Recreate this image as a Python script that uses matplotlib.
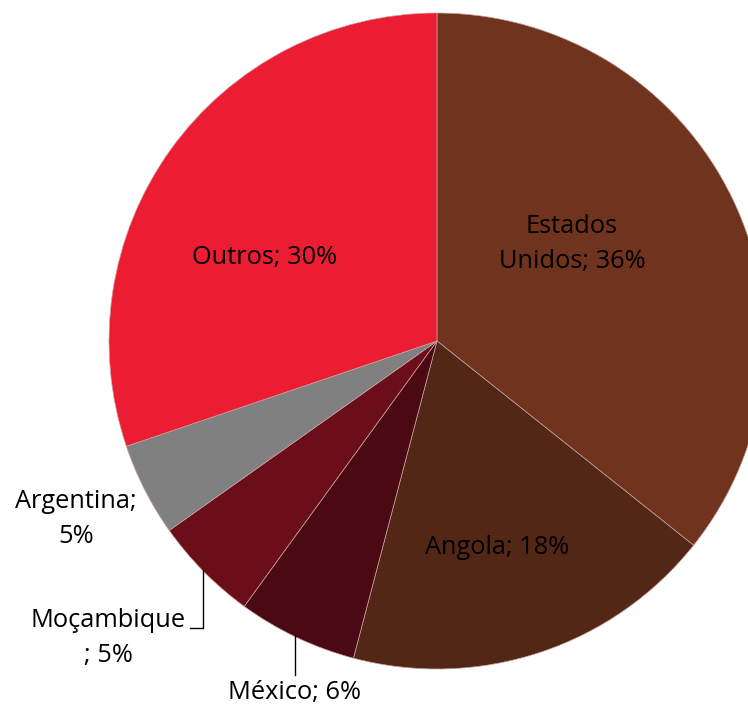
import matplotlib.pyplot as plt

# fatias (sentido horário a partir das 12h)
countries = ["Estados\nUnidos", "Angola", "México", "Moçambique\n", "Argentina;\n", "Outros"]
shares = [35.7, 18.4, 5.9, 5.2, 4.6, 30.2]
colors = ["#6F331E", "#532716", "#4B0A13", "#6C0E19", "#808080", "#EC1C33"]

# geometria da imagem em pixels
W, H = 748, 708
cx, cy, R = 437, 341, 328


def px(x, y):
    return (x - cx) / R, (cy - y) / R


fig = plt.figure(figsize=(W / 100, H / 100), dpi=100)
ax = fig.add_axes([0, 0, 1, 1])
ax.pie(shares, colors=colors, startangle=90, counterclock=False, radius=1,
       wedgeprops=dict(edgecolor="#C8A0A0", linewidth=0.5))
ax.set_xlim((0 - cx) / R, (W - cx) / R)
ax.set_ylim((cy - H) / R, cy / R)
ax.axis("off")

fs = 18.3

labels = []
for name, v in zip(countries, shares):
    if name.endswith(";\n"):
        labels.append(f"{name}{v:.0f}%")
    else:
        labels.append(f"{name}; {v:.0f}%")

# posições dos rótulos (pixels da referência)
label_pos = [(572, 244), (497, 547), (295, 693), (108, 638), (76, 519), (265, 258)]
for lab, (x, y) in zip(labels, label_pos):
    ax.text(*px(x, y), lab, ha="center", va="center", fontsize=fs,
            color="#000000", linespacing=1.5, family=["Open Sans", "DejaVu Sans"])

# linhas de chamada
lx, ly = zip(px(203, 570), px(203, 628), px(190, 628))
ax.plot(lx, ly, color="#000000", lw=1)
lx, ly = zip(px(295, 635), px(295, 675))
ax.plot(lx, ly, color="#000000", lw=1)

fig.savefig("out.png", dpi=100)
